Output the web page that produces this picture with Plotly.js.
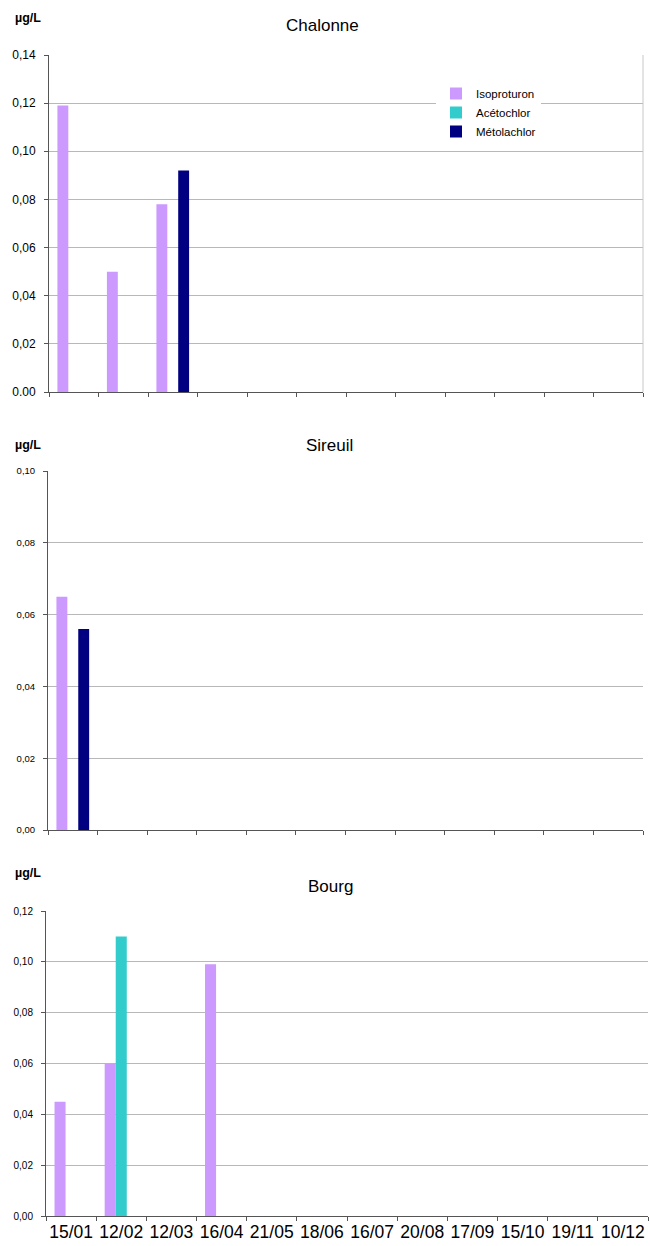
<!DOCTYPE html>
<html>
<head>
<meta charset="utf-8">
<script src="https://cdn.plot.ly/plotly-3.0.1.min.js"></script>
<style>
  html, body { margin: 0; padding: 0; background: #fff; }
  #chart { width: 650px; height: 1246px; }
</style>
</head>
<body>
<div id="chart"></div>
<script>
// Sampling dates (categories shared by the three stations)
const dates = ['15/01', '12/02', '12/03', '16/04', '21/05', '18/06', '16/07', '20/08', '17/09', '15/10', '19/11', '10/12'];

// Concentrations in µg/L (null = not detected)
const chalonneIsoproturon = [0.119, 0.050, 0.078, null, null, null, null, null, null, null, null, null];
const chalonneAcetochlor  = [null, null, null, null, null, null, null, null, null, null, null, null];
const chalonneMetolachlor = [null, null, 0.092, null, null, null, null, null, null, null, null, null];

const sireuilIsoproturon  = [0.065, null, null, null, null, null, null, null, null, null, null, null];
const sireuilAcetochlor   = [null, null, null, null, null, null, null, null, null, null, null, null];
const sireuilMetolachlor  = [0.056, null, null, null, null, null, null, null, null, null, null, null];

const bourgIsoproturon    = [0.045, 0.060, null, 0.099, null, null, null, null, null, null, null, null];
const bourgAcetochlor     = [null, 0.110, null, null, null, null, null, null, null, null, null, null];
const bourgMetolachlor    = [null, null, null, null, null, null, null, null, null, null, null, null];

// Y-axis tick labels per station
const chalonneTickVals  = [0, 0.02, 0.04, 0.06, 0.08, 0.10, 0.12, 0.14];
const chalonneTickText  = ['0.00', '0,02', '0,04', '0,06', '0,08', '0,10', '0,12', '0,14'];
const sireuilTickVals   = [0, 0.02, 0.04, 0.06, 0.08, 0.10];
const sireuilTickText   = ['0,00', '0,02', '0,04', '0,06', '0,08', '0,10'];
const bourgTickVals     = [0, 0.02, 0.04, 0.06, 0.08, 0.10, 0.12];
const bourgTickText     = ['0,00', '0,02', '0,04', '0,06', '0,08', '0,10', '0,12'];

const stations = ['Chalonne', 'Sireuil', 'Bourg'];
const seriesNames = ['Isoproturon', 'Acétochlor', 'Métolachlor'];
const seriesColors = ['#CC99FF', '#33CCCC', '#000080'];

const FONT = 'Arial, "Liberation Sans", sans-serif';
const W = 650, H = 1246;
const px = v => v / W;
const py = v => 1 - v / H;

const stationData = [
  [chalonneIsoproturon, chalonneAcetochlor, chalonneMetolachlor],
  [sireuilIsoproturon, sireuilAcetochlor, sireuilMetolachlor],
  [bourgIsoproturon, bourgAcetochlor, bourgMetolachlor]
];

const traces = [];
stationData.forEach((series, s) => {
  const sfx = s === 0 ? '' : String(s + 1);
  series.forEach((vals, k) => {
    traces.push({
      type: 'bar',
      name: seriesNames[k],
      x: dates,
      y: vals,
      xaxis: 'x' + sfx,
      yaxis: 'y' + sfx,
      marker: { color: seriesColors[k], line: { width: 0 } },
      legendgroup: seriesNames[k],
      showlegend: s === 0,
      hoverinfo: 'x+y+name'
    });
  });
});

const axisLine = '#555555';
const gridCol = '#b8b8b8';

function xAxis(domain, anchor, showLabels) {
  return {
    type: 'category',
    domain: domain,
    anchor: anchor,
    range: [-0.5, 11.5],
    showline: true, linecolor: axisLine, linewidth: 1,
    ticks: 'outside', ticklen: 4, tickcolor: axisLine, tickwidth: 1,
    tickson: 'boundaries',
    tickangle: 0,
    showgrid: false, zeroline: false,
    showticklabels: showLabels,
    tickfont: { family: FONT, size: 17.5, color: '#000' },
    fixedrange: true
  };
}

function yAxis(domain, anchor, range, vals, text, size) {
  return {
    domain: domain,
    anchor: anchor,
    range: range,
    tickvals: vals,
    ticktext: text,
    showline: true, linecolor: axisLine, linewidth: 1,
    ticks: 'outside', ticklen: 4, tickcolor: axisLine, tickwidth: 1,
    ticklabelstandoff: 6,
    showgrid: true, gridcolor: gridCol, gridwidth: 1,
    zeroline: false,
    tickfont: { family: FONT, size: size, color: '#000' },
    fixedrange: true
  };
}

const titleY = [26, 445, 886];
const unitY = [18, 445, 873];
const titleX = [322, 329, 330];

const annotations = [];
stations.forEach((name, i) => {
  annotations.push({
    text: name, xref: 'paper', yref: 'paper',
    x: px(titleX[i]), y: py(titleY[i]), xanchor: 'center', yanchor: 'middle',
    showarrow: false, font: { family: FONT, size: 17, color: '#000' }
  });
  annotations.push({
    text: '<b>µg/L</b>', xref: 'paper', yref: 'paper',
    x: px(13), y: py(unitY[i]), xanchor: 'left', yanchor: 'middle',
    showarrow: false, font: { family: FONT, size: 12.5, color: '#000' }
  });
});

const layout = {
  width: W, height: H,
  margin: { l: 0, r: 0, t: 0, b: 0 },
  paper_bgcolor: '#fff', plot_bgcolor: '#fff',
  barmode: 'group', bargap: 0.34, bargroupgap: 0,
  font: { family: FONT, color: '#000' },
  xaxis:  xAxis([px(49), px(643)], 'y', false),
  xaxis2: xAxis([px(48), px(643)], 'y2', false),
  xaxis3: xAxis([px(46), px(648)], 'y3', true),
  yaxis:  yAxis([py(392), py(55)], 'x', [0, 0.14], chalonneTickVals, chalonneTickText, 12),
  yaxis2: yAxis([py(830), py(471)], 'x2', [0, 0.10], sireuilTickVals, sireuilTickText, 9.5),
  yaxis3: yAxis([py(1216), py(911)], 'x3', [0, 0.12], bourgTickVals, bourgTickText, 10),
  legend: {
    x: px(436), y: py(79), xanchor: 'left', yanchor: 'top',
    bgcolor: '#fff', borderwidth: 0,
    font: { family: FONT, size: 11.5, color: '#000' },
    tracegroupgap: 0, itemwidth: 30
  },
  annotations: annotations,
  shapes: [
    { type: 'line', xref: 'paper', yref: 'paper',
      x0: px(643), x1: px(643), y0: py(392), y1: py(55),
      line: { color: '#c8c8c8', width: 1 } }
  ]
};

Plotly.newPlot('chart', traces, layout, { displayModeBar: false, staticPlot: true });
</script>
</body>
</html>
